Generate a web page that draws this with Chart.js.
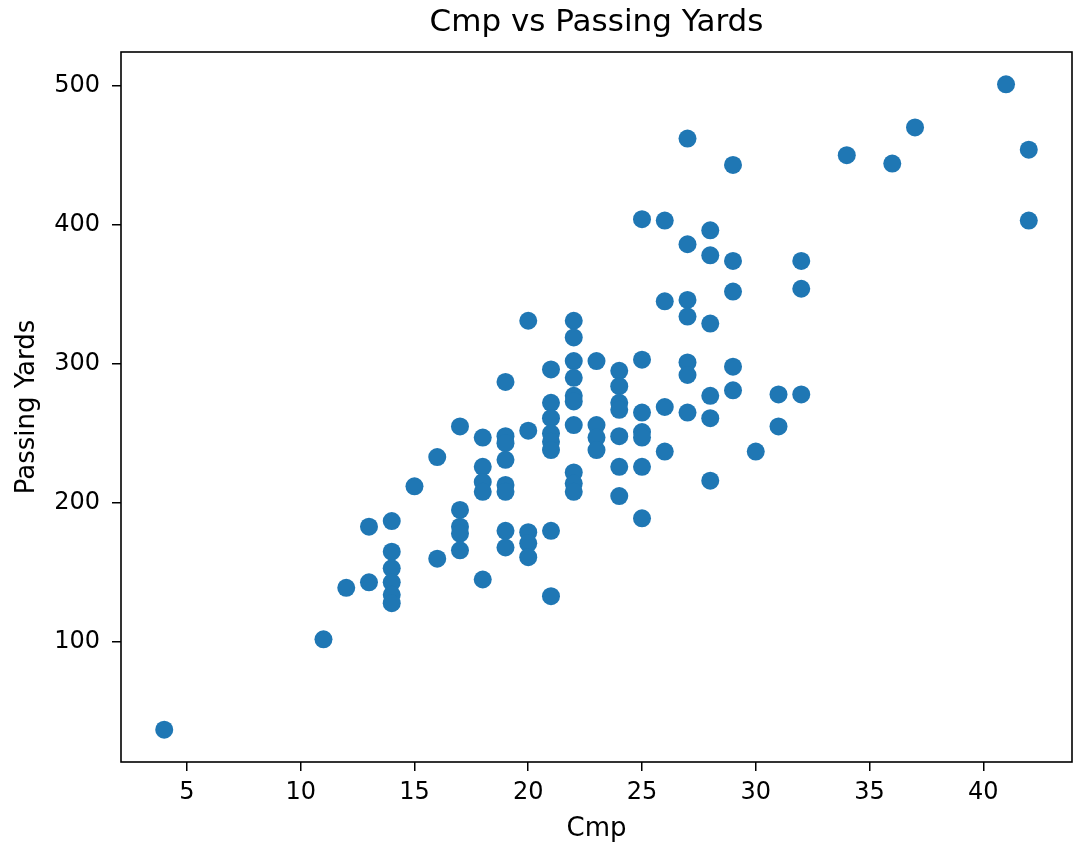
<!DOCTYPE html>
<html>
<head>
<meta charset="utf-8">
<title>Cmp vs Passing Yards</title>
<script src="https://cdn.jsdelivr.net/npm/chart.js@4/dist/chart.umd.min.js"></script>
<style>
  body { margin: 0; background: #fff; }
</style>
</head>
<body>
<canvas id="myChart" width="1073" height="854"></canvas>
<script>
// data (one entry per point)
var cmp = [
  4, 11, 12, 13, 13,
  14, 14, 14, 14, 14, 14,
  15, 16, 16,
  17, 17, 17, 17, 17,
  18, 18, 18, 18, 18,
  19, 19, 19, 19, 19, 19, 19, 19,
  20, 20, 20, 20, 20,
  21, 21, 21, 21, 21, 21, 21, 21,
  22, 22, 22, 22, 22, 22, 22, 22, 22, 22,
  23, 23, 23, 23,
  24, 24, 24, 24, 24, 24, 24,
  25, 25, 25, 25, 25, 25, 25,
  26, 26, 26, 26,
  27, 27, 27, 27, 27, 27, 27,
  28, 28, 28, 28, 28, 28,
  29, 29, 29, 29, 29,
  30, 31, 31, 32, 32, 32,
  34, 36, 37, 41, 42, 42
];
var passingYards = [
  37, 102, 139, 183, 143,
  187, 165, 153, 143, 134, 128,
  212, 233, 160,
  255, 195, 183, 178, 166,
  247, 226, 215, 208, 145,
  287, 248, 243, 231, 213, 208, 180, 168,
  331, 252, 179, 171, 161,
  296, 272, 261, 250, 244, 238, 180, 133,
  331, 319, 302, 290, 277, 273, 256, 222, 214, 208,
  302, 256, 247, 238,
  295, 284, 272, 267, 248, 226, 205,
  404, 303, 265, 251, 247, 226, 189,
  403, 345, 269, 237,
  462, 386, 346, 334, 301, 292, 265,
  396, 378, 329, 277, 261, 216,
  443, 374, 352, 298, 281,
  237, 278, 255, 374, 354, 278,
  450, 444, 470, 501, 454, 403
];
var xTicks = [5, 10, 15, 20, 25, 30, 35, 40];
var yTicks = [100, 200, 300, 400, 500];

// axis limits like matplotlib (5% margin)
function pad(arr) {
  var lo = Math.min.apply(null, arr), hi = Math.max.apply(null, arr);
  var m = (hi - lo) * 0.05;
  return [lo - m, hi + m];
}
var xLim = pad(cmp);
var yLim = pad(passingYards);

var points = cmp.map(function (c, i) {
  return { x: c, y: passingYards[i] };
});

// title + box frame drawn like matplotlib
var framePlugin = {
  id: 'frame',
  afterDraw: function (chart) {
    var c = chart.ctx, a = chart.chartArea;
    c.save();
    c.strokeStyle = '#000';
    c.lineWidth = 1.6;
    c.strokeRect(a.left, a.top, a.right - a.left, a.bottom - a.top);
    c.fillStyle = '#000';
    c.font = '31px "DejaVu Sans"';
    c.textAlign = 'center';
    c.textBaseline = 'middle';
    c.fillText('Cmp vs Passing Yards', (a.left + a.right) / 2, 23);
    c.restore();
  }
};

var ctx = document.getElementById('myChart');
Chart.defaults.font.family = '"DejaVu Sans", sans-serif';
Chart.defaults.color = '#000';

var chart = new Chart(ctx, {
  type: 'scatter',
  data: {
    datasets: [{
      label: 'Passing Yards',
      data: points,
      backgroundColor: '#1f77b4',
      borderColor: '#1f77b4',
      borderWidth: 0,
      pointRadius: 9,
      pointHoverRadius: 9
    }]
  },
  options: {
    responsive: false,
    animation: false,
    layout: { autoPadding: false, padding: { top: 52, right: 1, left: 0, bottom: 0 } },
    plugins: {
      legend: { display: false },
      tooltip: { enabled: false }
    },
    scales: {
      x: {
        type: 'linear',
        min: xLim[0],
        max: xLim[1],
        afterBuildTicks: function (s) {
          s.ticks = xTicks.map(function (v) { return { value: v }; });
        },
        afterFit: function (s) {
          s.height = 92;
          s.paddingLeft = 0;
          s.paddingRight = 0;
        },
        grid: { drawOnChartArea: false, drawTicks: true, tickLength: 9, color: '#000', lineWidth: 1.5 },
        border: { display: false },
        ticks: { font: { size: 24 }, padding: 7, maxRotation: 0 },
        title: { display: true, text: 'Cmp', font: { size: 26 }, padding: { top: 9, bottom: 9 } }
      },
      y: {
        type: 'linear',
        min: yLim[0],
        max: yLim[1],
        afterBuildTicks: function (s) {
          s.ticks = yTicks.map(function (v) { return { value: v }; });
        },
        afterFit: function (s) {
          s.width = 121;
          s.paddingTop = 0;
          s.paddingBottom = 0;
        },
        grid: { drawOnChartArea: false, drawTicks: true, tickLength: 9, color: '#000', lineWidth: 1.5 },
        border: { display: false },
        ticks: { font: { size: 24 }, padding: 12 },
        title: { display: true, text: 'Passing Yards', font: { size: 26 }, padding: { top: 12, bottom: 12 } }
      }
    }
  },
  plugins: [framePlugin]
});
// end chart
</script>
</body>
</html>
